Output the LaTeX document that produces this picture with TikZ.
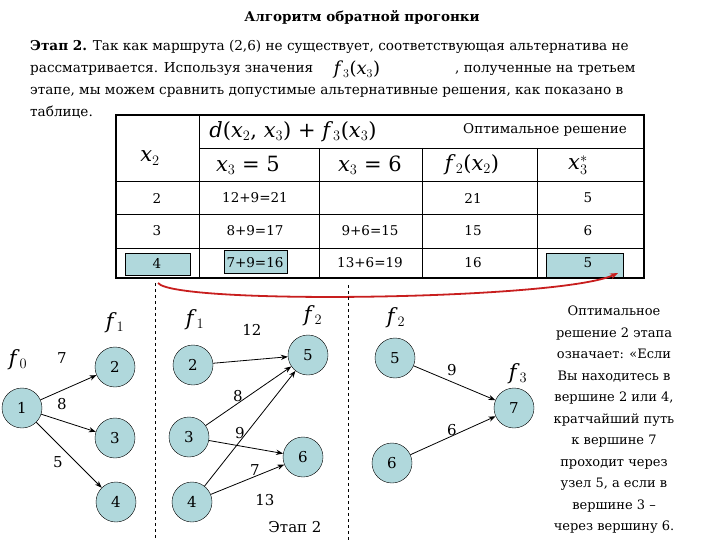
\documentclass[tikz,border=0pt]{standalone}
\usepackage{fontspec}
\setmainfont{DejaVu Serif}
\usetikzlibrary{arrows.meta}
\definecolor{nfill}{RGB}{176,216,220}
\definecolor{arc}{RGB}{200,30,30}
\newcommand{\vv}[1]{\textit{#1}}
\tikzset{
 vx/.style={circle,draw,fill=nfill,minimum size=40pt,inner sep=0pt,font=\fontsize{15}{15}\selectfont},
 ed/.style={draw,thick,-{Stealth[length=7pt]}},
 lb/.style={font=\fontsize{15}{15}\selectfont},
 fl/.style={font=\fontsize{21}{21}\selectfont},
 tx/.style={anchor=base west,inner sep=0pt,font=\fontsize{13.6}{13.6}\selectfont},
 cell/.style={font=\fontsize{13.5}{13.5}\selectfont},
 hl/.style={draw,fill=nfill},
}
\begin{document}
\begin{tikzpicture}[x=1pt,y=-1pt]
\useasboundingbox (0,0) rectangle (720,540);
% text
\node[font=\bfseries\fontsize{13.5}{13.5}\selectfont] (title) at (362,17) {Алгоритм обратной прогонки};
\node[tx] (l1) at (30,51) {\textbf{Этап 2.} Так как маршрута (2,6) не существует, соответствующая альтернатива не};
\node[tx] (l2) at (30,73) {рассматривается. Используя значения};
\node[font=\fontsize{18}{18}\selectfont] (f3v) at (357,70) {\vv{f}$_3$(\vv{x}$_3$)};
\node[tx] (l2b) at (455,73) {, полученные на третьем};
\node[tx] (l3) at (30,95) {этапе, мы можем сравнить допустимые альтернативные решения, как показано в};
\node[tx] (l4) at (30,117) {таблице.};
% table
\fill[hl] (125,253) rectangle (190,275);
\fill[hl] (224,250) rectangle (287,273);
\fill[hl] (546,253) rectangle (623,277);
\draw[line width=1.6pt] (116,115) rectangle (644,278);
\draw (199,115) -- (199,278);
\draw (199,148) -- (644,148);
\draw (319,148) -- (319,278);
\draw (422,148) -- (422,278);
\draw (537,148) -- (537,278);
\draw (116,181) -- (644,181) (116,214) -- (644,214) (116,248) -- (644,248);
\node[fl] (h1) at (293,132) {\vv{d}(\vv{x}$_2$, \vv{x}$_3$) + \vv{f}$_3$(\vv{x}$_3$)};
\node[cell] (h2) at (545,130) {Оптимальное решение};
\node[fl] (hx2) at (150,158) {\vv{x}$_2$};
\node[fl] (hx35) at (248,165) {\vv{x}$_3$ = 5};
\node[fl] (hx36) at (370,165) {\vv{x}$_3$ = 6};
\node[fl] (hf2) at (472,165) {\vv{f}$_2$(\vv{x}$_2$)};
\node[fl] (hxs) at (578,165) {\vv{x}$_3^{*}$};
\node[cell] (a1) at (157,198) {2};
\node[cell] (a2) at (255,198) {12+9=21};
\node[cell] (a4) at (473,198) {21};
\node[cell] (a5) at (588,198) {5};
\node[cell] (b1) at (157,231) {3};
\node[cell] (b2) at (255,231) {8+9=17};
\node[cell] (b3) at (370,231) {9+6=15};
\node[cell] (b4) at (473,231) {15};
\node[cell] (b5) at (588,231) {6};
\node[cell] (c1) at (157,263) {4};
\node[cell] (c2) at (255,263) {7+9=16};
\node[cell] (c3) at (370,263) {13+6=19};
\node[cell] (c4) at (473,263) {16};
\node[cell] (c5) at (588,263) {5};
\coordinate (as) at (158,283);
\coordinate (ae) at (618,273);
\draw[arc,line width=1.8pt,-{Stealth[length=8pt]}] (as) .. controls (175,305) and (560,300) .. (ae);
% dashed separators
\draw[dashed] (155,283) -- (155,540);
\draw[dashed] (348,285) -- (348,540);
% graph
\node[vx] (n1) at (22,408) {1};
\node[vx] (n2) at (115,367) {2};
\node[vx] (n3) at (115,438) {3};
\node[vx] (n4) at (116,502) {4};
\node[vx] (m2) at (193,365) {2};
\node[vx] (m3) at (189,437) {3};
\node[vx] (m4) at (192,502) {4};
\node[vx] (m5) at (308,355) {5};
\node[vx] (m6) at (303,457) {6};
\node[vx] (k5) at (395,358) {5};
\node[vx] (k6) at (392,463) {6};
\node[vx] (k7) at (514,408) {7};
\draw[ed] (n1) -- (n2);
\draw[ed] (n1) -- (n3);
\draw[ed] (n1) -- (n4);
\draw[ed] (m2) -- (m5);
\draw[ed] (m3) -- (m5);
\draw[ed] (m3) -- (m6);
\draw[ed] (m4) -- (m5);
\draw[ed] (m4) -- (m6);
\draw[ed] (k5) -- (k7);
\draw[ed] (k6) -- (k7);
\node[fl] (f0) at (18,360) {\vv{f}$_0$};
\node[fl] (f1a) at (115,323) {\vv{f}$_1$};
\node[fl] (f1b) at (195,320) {\vv{f}$_1$};
\node[fl] (f2a) at (313,316) {\vv{f}$_2$};
\node[fl] (f2b) at (396,318) {\vv{f}$_2$};
\node[fl] (f3a) at (518,374) {\vv{f}$_3$};
\node[lb] (e1) at (62,358) {7};
\node[lb] (e2) at (62,404) {8};
\node[lb] (e3) at (58,462) {5};
\node[lb] (e4) at (252,330) {12};
\node[lb] (e5) at (238,396) {8};
\node[lb] (e6) at (240,433) {9};
\node[lb] (e7) at (255,470) {7};
\node[lb] (e8) at (265,500) {13};
\node[lb] (e9) at (452,370) {9};
\node[lb] (e10) at (452,430) {6};
\node[lb] (st) at (295,527) {Этап 2};
\node[align=center,font=\fontsize{13}{21.5}\selectfont] (rt) at (614,420) {Оптимальное\\решение 2 этапа\\означает: «Если\\Вы находитесь в\\вершине 2 или 4,\\кратчайший путь\\к вершине 7\\проходит через\\узел 5, а если в\\вершине 3 –\\через вершину 6.};
\end{tikzpicture}
\end{document}
